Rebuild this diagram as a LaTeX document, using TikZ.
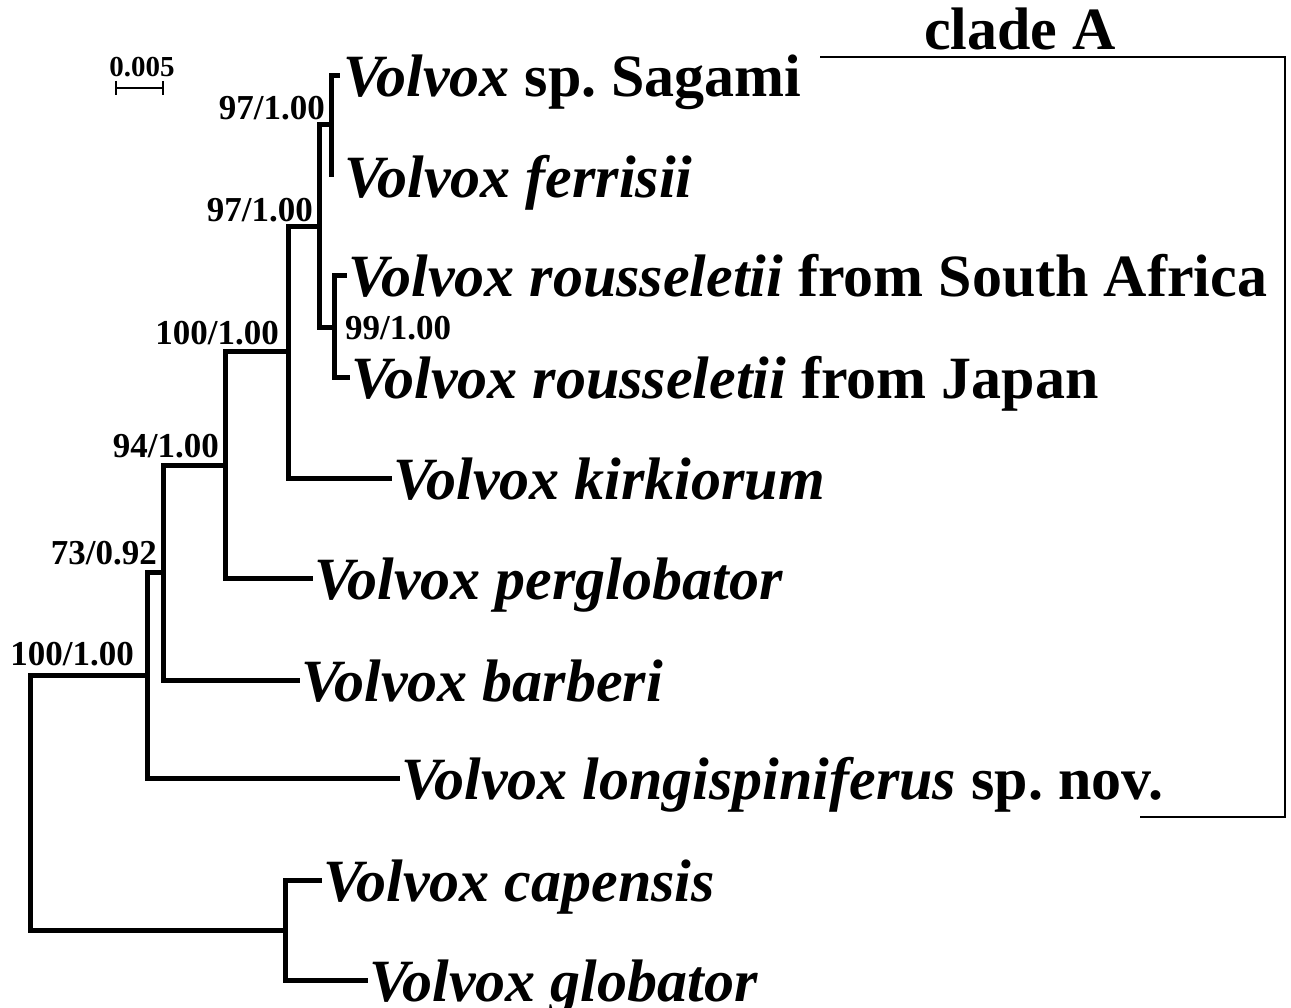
\documentclass[tikz,border=0pt]{standalone}
\usepackage{fontspec}
\setmainfont{Liberation Serif}
\usetikzlibrary{positioning}
\frenchspacing

\begin{document}
\begin{tikzpicture}[
  x=1pt, y=-1pt,
  branch/.style = {line width=5pt},
  leaf/.style = {anchor=base west, inner sep=0pt, xshift=1pt, yshift=-21pt,
    font=\fontsize{60}{62}\selectfont\bfseries},
  supp/.style = {inner sep=0pt, font=\fontsize{35}{37}\selectfont\bfseries},
  bracket/.style = {line width=1.6pt}
  ]
	\useasboundingbox (0,0) rectangle (1291,1008);

	% internal nodes of the tree
	\coordinate (@root) at (30,800);
	\coordinate (@a) at (147,675);
	\coordinate (@b) at (163,572);
	\coordinate (@c) at (225,465);
	\coordinate (@d) at (288,352);
	\coordinate (@e) at (319,227);
	\coordinate (@f) at (331,125);
	\coordinate (@g) at (334,328);
	\coordinate (@h) at (285,930);

	% tips
	\coordinate (@sag) at (340,76);
	\coordinate (@fer) at (331,177);
	\coordinate (@saf) at (347,276);
	\coordinate (@jap) at (350,378);
	\coordinate (@kir) at (392,478);
	\coordinate (@per) at (313,578);
	\coordinate (@bar) at (300,680);
	\coordinate (@lon) at (400,778);
	\coordinate (@cap) at (322,880);
	\coordinate (@glo) at (368,980);

	\draw[branch] (@root) |- (@a) (@root) |- (@h);
	\draw[branch] (@a) |- (@b) (@a) |- (@lon);
	\draw[branch] (@b) |- (@c) (@b) |- (@bar);
	\draw[branch] (@c) |- (@d) (@c) |- (@per);
	\draw[branch] (@d) |- (@e) (@d) |- (@kir);
	\draw[branch] (@e) |- (@f) (@e) |- (@g);
	\draw[branch] (@f) |- (@sag) (@f) -- (@fer);
	\draw[branch] (@g) |- (@saf) (@g) |- (@jap);
	\draw[branch] (@h) |- (@cap) (@h) |- (@glo);

	\node[leaf, xshift=2pt] (sagami) at (@sag) {\textit{Volvox} sp. Sagami};
	\node[leaf, xshift=12pt] (ferrisii) at (@fer) {\textit{Volvox ferrisii}};
	\node[leaf] (safrica) at (@saf) {\textit{Volvox rousseletii} from South Africa};
	\node[leaf] (japan) at (@jap) {\textit{Volvox rousseletii} from Japan};
	\node[leaf] (kirkiorum) at (@kir) {\textit{Volvox kirkiorum}};
	\node[leaf] (perglobator) at (@per) {\textit{Volvox perglobator}};
	\node[leaf] (barberi) at (@bar) {\textit{Volvox barberi}};
	\node[leaf] (longi) at (@lon) {\textit{Volvox longispiniferus} sp. nov.};
	\node[leaf] (capensis) at (@cap) {\textit{Volvox capensis}};
	\node[leaf] (globator) at (@glo) {\textit{Volvox globator}};

	% support values
	\node[supp, above left=9pt and 13pt of @a] (s-a) {100/1.00};
	\node[supp, above left=7pt and 6pt of @b] (s-b) {73/0.92};
	\node[supp, above left=7pt and 6pt of @c] (s-c) {94/1.00};
	\node[supp, above left=7pt and 9pt of @d] (s-d) {100/1.00};
	\node[supp, above left=5pt and 6pt of @e] (s-e) {97/1.00};
	\node[supp, above left=5pt and 6pt of @f] (s-f) {97/1.00};
	\node[supp, right=11pt of @g] (s-g) {99/1.00};

	% scale bar
	\coordinate (@sb1) at (116,88);
	\coordinate (@sb2) at (163,88);
	\draw[line width=2.6pt] (@sb1) -- (@sb2)
	  (@sb1) ++(0,-7) -- ++(0,14) (@sb2) ++(0,-7) -- ++(0,14);
	\node[inner sep=0pt, anchor=base, font=\fontsize{29}{31}\selectfont\bfseries]
	  (scale) at (142,77) {0.005};

	% clade A
	\coordinate (@cl1) at (820,57);
	\coordinate (@cl2) at (1285,57);
	\coordinate (@cl3) at (1285,817);
	\coordinate (@cl4) at (1140,817);
	\draw[bracket] (@cl1) -- (@cl2) -- (@cl3) -- (@cl4);
	\node[inner sep=0pt, anchor=base, font=\fontsize{60}{62}\selectfont\bfseries]
	  (clade) at (1020,50) {clade A};

\end{tikzpicture}
\end{document}
